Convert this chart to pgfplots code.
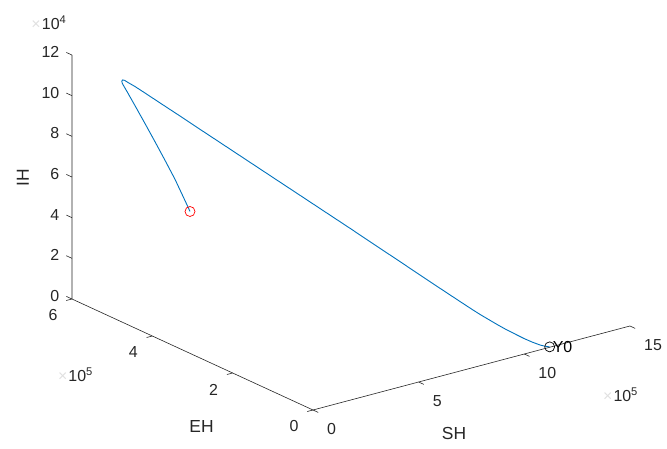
\documentclass[border=0pt]{standalone}
\usepackage{pgfplots}
\pgfplotsset{compat=1.18}
\usepackage{fontspec}
\setmainfont{Liberation Sans}
\definecolor{mblue}{rgb}{0,0.447,0.741}
\definecolor{axc}{rgb}{0.15,0.15,0.15}
\begin{document}
\begin{tikzpicture}
\path[use as bounding box] (-313bp,-39bp) rectangle (354bp,410bp);
\begin{axis}[
  at={(0,0)}, anchor=origin,
  x={(21.13bp,5.6bp)}, y={(-40.17bp,18.5bp)}, z={(0bp,20.33bp)},
  xmin=0,xmax=15,ymin=0,ymax=6,zmin=0,zmax=12,
  hide axis, clip=false,
]
% axis lines
\draw[axc, line width=0.6bp] (axis cs:15,0,0) -- (axis cs:0,0,0) -- (axis cs:0,6,0) -- (axis cs:0,6,12);
\pgfplotsinvokeforeach{0,5,10,15}{
  \draw[axc, line width=0.6bp] (axis cs:#1,0,0) -- (axis cs:#1,-0.13,0);
  \node[anchor=west, inner sep=0, xshift=14bp, yshift=-19bp, text=axc, font=\fontsize{16}{19}\selectfont] at (axis cs:#1,0,0) {#1};
}
\pgfplotsinvokeforeach{0,2,4,6}{
  \draw[axc, line width=0.6bp] (axis cs:0,#1,0) -- (axis cs:-0.27,#1,0);
  \node[inner sep=0, xshift=-19bp, yshift=-16.5bp, text=axc, font=\fontsize{16}{19}\selectfont] at (axis cs:0,#1,0) {#1};
}
\pgfplotsinvokeforeach{0,2,4,6,8,10,12}{
  \draw[axc, line width=0.6bp] (axis cs:0,6,#1) -- (axis cs:0,6.14,#1);
  \node[anchor=east, inner sep=0, xshift=-12.5bp, yshift=3bp, text=axc, font=\fontsize{16}{19}\selectfont] at (axis cs:0,6,#1) {#1};
}
% trajectory (SH in 1e5, EH in 1e5, IH in 1e4)
\addplot3[mblue, line width=0.9bp, no marks] coordinates {
(11.200,0.000,0.020) (11.078,0.052,0.039) (10.957,0.113,0.077) (10.762,0.209,0.190)
(10.567,0.306,0.328) (10.349,0.415,0.510) (10.154,0.512,0.673) (9.935,0.621,0.880)
(9.740,0.717,1.076) (9.521,0.826,1.298) (9.327,0.923,1.510) (9.011,1.080,1.872)
(8.524,1.322,2.435) (8.037,1.564,3.003) (7.551,1.806,3.576) (6.943,2.109,4.285)
(6.335,2.411,4.999) (5.726,2.714,5.703) (5.118,3.016,6.407) (4.510,3.319,7.110)
(3.902,3.621,7.814) (3.294,3.923,8.518) (2.685,4.226,9.222) (2.199,4.468,9.790)
(1.712,4.710,10.348) (1.347,4.891,10.771) (1.104,5.012,11.047) (0.934,5.097,11.214)
(0.849,5.139,11.307) (0.800,5.164,11.313) (0.780,5.170,11.253) (0.760,5.150,11.189)
(0.740,5.107,11.111) (0.710,5.004,10.918) (0.670,4.784,10.435) (0.630,4.514,9.811)
(0.600,4.249,9.165) (0.570,3.984,8.500) (0.540,3.719,7.815) (0.520,3.510,7.174)
(0.510,3.380,6.769) (0.500,3.325,6.601)
};
\addplot3[only marks, mark=o, mark size=5bp, red, mark options={line width=0.7bp}] coordinates {(0.500,3.325,6.601)};
\addplot3[only marks, mark=o, mark size=5bp, black, mark options={line width=0.7bp}] coordinates {(11.200,0.000,0.020)};
\node[anchor=west, inner sep=0, xshift=3bp, font=\fontsize{16}{19}\selectfont] at (axis cs:11.200,0.000,0.020) {Y0};
\end{axis}
% exponent labels
\node[anchor=base west, inner sep=0, text=axc, font=\fontsize{16}{19}\selectfont] at (-271.3bp,380.7bp) {10\textsuperscript{4}};
\node[anchor=base east, inner sep=0, text=black!12, font=\fontsize{16}{19}\selectfont] at (-272bp,380.7bp) {×};
\node[anchor=base west, inner sep=0, text=axc, font=\fontsize{16}{19}\selectfont] at (-244.7bp,28.6bp) {10\textsuperscript{5}};
\node[anchor=base east, inner sep=0, text=black!12, font=\fontsize{16}{19}\selectfont] at (-245.4bp,28.6bp) {×};
\node[anchor=base west, inner sep=0, text=axc, font=\fontsize{16}{19}\selectfont] at (300.3bp,8.3bp) {10\textsuperscript{5}};
\node[anchor=base east, inner sep=0, text=black!12, font=\fontsize{16}{19}\selectfont] at (299.6bp,8.3bp) {×};
% axis labels
\node[rotate=90, inner sep=0, text=axc, font=\fontsize{17.5}{20}\selectfont] at (-290bp,232bp) {IH};
\node[inner sep=0, text=axc, font=\fontsize{17.5}{20}\selectfont] at (-111.5bp,-16.3bp) {EH};
\node[inner sep=0, text=axc, font=\fontsize{17.5}{20}\selectfont] at (141bp,-23.3bp) {SH};
\end{tikzpicture}
\end{document}
